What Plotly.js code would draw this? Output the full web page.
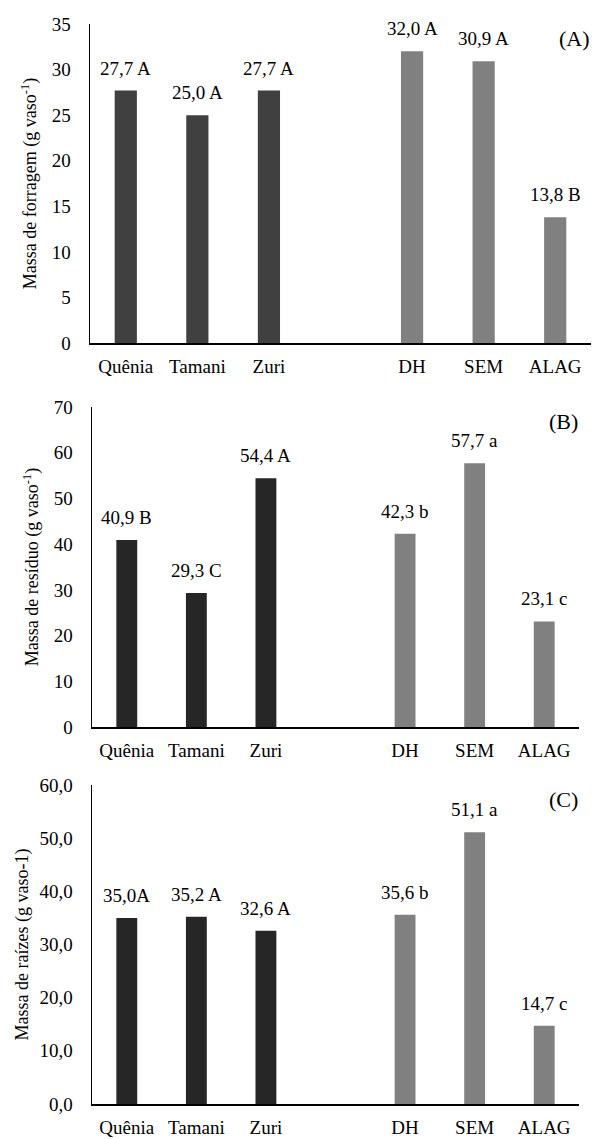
<!DOCTYPE html>
<html>
<head>
<meta charset="utf-8">
<script src="https://cdn.plot.ly/plotly-3.0.1.min.js"></script>
<style>html,body{margin:0;padding:0;background:#fff;}#chart{width:592px;height:1139px;}</style>
</head>
<body>
<div id="chart"></div>
<script>
// Categories (the blank one is the gap between the two groups)
const categories = ['Quênia', 'Tamani', 'Zuri', ' ', 'DH', 'SEM', 'ALAG'];
const tickCategories = ['Quênia', 'Tamani', 'Zuri', 'DH', 'SEM', 'ALAG'];
const grassCats = ['Quênia', 'Tamani', 'Zuri'];
const waterCats = ['DH', 'SEM', 'ALAG'];

// Panel A: Massa de forragem
const forragemGrass = [27.7, 25.0, 27.7];
const forragemGrassLabels = ['27,7 A', '25,0 A', '27,7 A'];
const forragemWater = [32.0, 30.9, 13.8];
const forragemWaterLabels = ['32,0 A', '30,9 A', '13,8 B'];

// Panel B: Massa de resíduo
const residuoGrass = [40.9, 29.3, 54.4];
const residuoGrassLabels = ['40,9 B', '29,3 C', '54,4 A'];
const residuoWater = [42.3, 57.7, 23.1];
const residuoWaterLabels = ['42,3 b', '57,7 a', '23,1 c'];

// Panel C: Massa de raízes
const raizesGrass = [35.0, 35.2, 32.6];
const raizesGrassLabels = ['35,0A', '35,2 A', '32,6 A'];
const raizesWater = [35.6, 51.1, 14.7];
const raizesWaterLabels = ['35,6 b', '51,1 a', '14,7 c'];

const panelTitles = ['(A)', '(B)', '(C)'];
const yTitles = ['Massa de forragem (g vaso<sup>-1</sup>)', 'Massa de resíduo (g vaso<sup>-1</sup>)', 'Massa de raízes (g vaso-1)'];

const FONT = 'Liberation Serif';
const H = 1139, W = 592;
const FS = 19;

const panels = [
  {g: forragemGrass, gl: forragemGrassLabels, w: forragemWater, wl: forragemWaterLabels,
   c1: '#404040', range: [0, 35], dtick: 5, fmt: 'd', top: 24, bottom: 343, left: 90, right: 591, width: 0.31, standoff: 10},
  {g: residuoGrass, gl: residuoGrassLabels, w: residuoWater, wl: residuoWaterLabels,
   c1: '#262626', range: [0, 70], dtick: 10, fmt: 'd', top: 407, bottom: 727, left: 92, right: 579, width: 0.30, standoff: 10},
  {g: raizesGrass, gl: raizesGrassLabels, w: raizesWater, wl: raizesWaterLabels,
   c1: '#262626', range: [0, 60], dtick: 10, fmt: '.1f', top: 785, bottom: 1104, left: 92, right: 579, width: 0.30, standoff: 6}
];

const data = [];
const annotations = [];
const layout = {
  width: W, height: H,
  margin: {l: 0, r: 0, t: 0, b: 0},
  paper_bgcolor: '#ffffff', plot_bgcolor: '#ffffff',
  showlegend: false,
  separators: ',.',
  barmode: 'overlay',
  font: {family: FONT, size: FS, color: '#000'},
  annotations: annotations
};

panels.forEach((p, i) => {
  const n = i === 0 ? '' : String(i + 1);
  const xa = 'x' + n, ya = 'y' + n;
  data.push({type: 'bar', x: grassCats, y: p.g, xaxis: xa, yaxis: ya, width: p.width,
    marker: {color: p.c1, line: {width: 0}}, hoverinfo: 'skip'});
  data.push({type: 'bar', x: waterCats, y: p.w, xaxis: xa, yaxis: ya, width: p.width,
    marker: {color: '#808080', line: {width: 0}}, hoverinfo: 'skip'});
  layout['xaxis' + n] = {
    domain: [p.left / W, p.right / W], anchor: ya,
    type: 'category', categoryorder: 'array', categoryarray: categories, range: [-0.5, 6.5],
    tickmode: 'array', tickvals: tickCategories, ticktext: tickCategories,
    showline: true, linecolor: '#000', linewidth: 1.5, ticks: '', showgrid: false, zeroline: false,
    ticklabelstandoff: 6,
    tickfont: {family: FONT, size: FS, color: '#000'}, fixedrange: true
  };
  layout['yaxis' + n] = {
    domain: [1 - p.bottom / H, 1 - p.top / H], anchor: xa,
    range: p.range, dtick: p.dtick, tick0: 0, tickformat: p.fmt,
    showline: true, linecolor: '#000', linewidth: 1.5, ticks: '', showgrid: false, zeroline: false,
    ticklabelstandoff: 14,
    tickfont: {family: FONT, size: FS, color: '#000'},
    title: {text: yTitles[i], font: {family: FONT, size: 18, color: '#000'}, standoff: p.standoff},
    fixedrange: true
  };
  const addLabels = (cats, vals, labels) => {
    cats.forEach((c, k) => {
      annotations.push({xref: xa, yref: ya, x: c, y: vals[k], text: labels[k], showarrow: false,
        yanchor: 'bottom', yshift: 10, font: {family: FONT, size: FS, color: '#000'}});
    });
  };
  addLabels(grassCats, p.g, p.gl);
  addLabels(waterCats, p.w, p.wl);
  annotations.push({xref: 'paper', yref: 'paper', x: (p.right + 1) / W, y: 1 - (p.top + 14) / H,
    xanchor: 'right', yanchor: 'middle', text: panelTitles[i], showarrow: false,
    font: {family: FONT, size: 22, color: '#000'}});
});

Plotly.newPlot('chart', data, layout, {staticPlot: true, displayModeBar: false});
</script>
</body>
</html>
